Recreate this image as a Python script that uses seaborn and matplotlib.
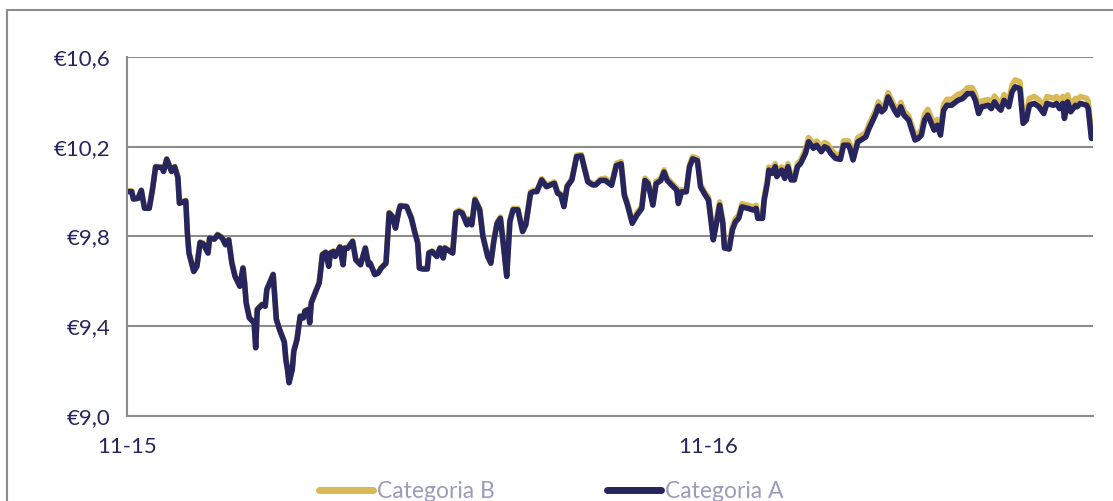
import seaborn as sns
import numpy as np
import pandas as pd
import matplotlib.pyplot as plt
from matplotlib.patches import Rectangle

# days since 2015-11-01 for each observation
days = [0, 3, 4, 7, 9, 11, 14, 16, 18, 22,
        23, 25, 28, 30, 32, 33, 37, 38, 39, 42,
        44, 46, 48, 51, 52, 55, 57, 60, 62, 64,
        66, 68, 71, 73, 74, 75, 77, 80, 81, 82,
        85, 87, 88, 92, 94, 96, 99, 100, 101, 102,
        104, 105, 107, 109, 111, 112, 114, 115, 116, 118,
        121, 123, 125, 127, 128, 130, 131, 134, 136, 137,
        139, 142, 144, 146, 147, 150, 152, 153, 156, 158,
        160, 163, 165, 167, 169, 171, 172, 176, 179, 181,
        183, 184, 186, 189, 190, 192, 195, 197, 199, 200,
        205, 207, 209, 211, 214, 215, 217, 219, 222, 224,
        227, 229, 231, 233, 235, 237, 239, 241, 243, 246,
        249, 251, 254, 256, 258, 261, 264, 269, 271, 273,
        275, 277, 280, 283, 286, 290, 293, 295, 298,
        301, 305, 308, 311, 313, 315, 318, 321, 324, 326, 328,
        331, 333, 336, 338, 340, 343, 346, 347, 349, 352,
        354, 356, 359, 361, 364,
        366, 368, 369, 371, 373, 375, 376, 379, 381, 383,
        385, 387, 391, 394, 396, 397, 400, 401, 403, 404,
        406, 408, 409, 412, 414, 416, 418, 420, 422, 424,
        427, 429, 432, 434, 437, 439, 441, 443, 446, 449,
        451, 454, 455, 457, 460, 462, 465, 467, 469, 471,
        473, 475, 477, 479, 481, 483, 485, 487, 489, 492, 494, 496, 498,
        500, 502, 504, 505, 508, 510, 512, 514, 516, 519,
        523, 526, 529, 532, 534, 536, 538, 542, 544, 546, 548, 550, 552, 555,
        557, 559, 562, 564, 566, 568, 571, 574, 577, 579,
        583, 585, 587, 589, 590, 592, 594, 597, 598, 600, 604, 605, 607]

categoria_a = [10.000, 10.000, 9.967, 9.970, 10.005, 9.926, 9.926, 10.007, 10.110, 10.107,
               10.090, 10.144, 10.090, 10.110, 10.064, 9.948, 9.958, 9.815, 9.726, 9.644,
               9.667, 9.773, 9.767, 9.726, 9.793, 9.788, 9.807, 9.793, 9.763, 9.785,
               9.681, 9.622, 9.578, 9.659, 9.593, 9.504, 9.437, 9.415, 9.304, 9.474,
               9.496, 9.489, 9.563, 9.630, 9.430, 9.385, 9.330, 9.250, 9.207, 9.148,
               9.207, 9.289, 9.341, 9.444, 9.437, 9.467, 9.474, 9.415, 9.504, 9.541,
               9.593, 9.719, 9.729, 9.667, 9.726, 9.733, 9.711, 9.753, 9.674, 9.748,
               9.748, 9.778, 9.696, 9.681, 9.674, 9.748, 9.674, 9.681, 9.630, 9.637,
               9.659, 9.681, 9.904, 9.889, 9.837, 9.911, 9.936, 9.933, 9.881, 9.822,
               9.770, 9.659, 9.655, 9.655, 9.726, 9.733, 9.711, 9.748, 9.704, 9.748,
               9.726, 9.904, 9.911, 9.904, 9.852, 9.874, 9.852, 9.963, 9.919, 9.800,
               9.711, 9.681, 9.785, 9.859, 9.881, 9.756, 9.622, 9.867, 9.919, 9.919,
               9.822, 9.852, 9.993, 10.000, 10.000, 10.052, 10.022, 10.037, 9.993, 9.985,
               9.933, 10.022, 10.052, 10.156, 10.159, 10.044, 10.030, 10.030, 10.050,
               10.050, 10.028, 10.116, 10.124, 9.984, 9.940, 9.859, 9.896, 9.925, 10.050, 10.035,
               9.940, 10.035, 10.050, 10.087, 10.050, 10.028, 10.006, 9.947, 9.999, 9.999,
               10.109, 10.146, 10.138, 10.021, 9.984,
               9.962, 9.844, 9.785, 9.859, 9.940, 9.859, 9.749, 9.744, 9.829, 9.866,
               9.881, 9.932, 9.925, 9.918, 9.925, 9.881, 9.881, 9.960, 10.037, 10.096,
               10.081, 10.111, 10.067, 10.096, 10.059, 10.111, 10.052, 10.052, 10.111, 10.126,
               10.170, 10.222, 10.193, 10.207, 10.178, 10.200, 10.193, 10.170, 10.148, 10.144,
               10.207, 10.207, 10.193, 10.141, 10.222, 10.230, 10.244, 10.281, 10.311, 10.341,
               10.381, 10.356, 10.370, 10.422, 10.393, 10.363, 10.341, 10.378, 10.341, 10.319,
               10.274, 10.230, 10.237,
               10.252, 10.319, 10.341, 10.326, 10.274, 10.296, 10.252, 10.363, 10.385, 10.385,
               10.407, 10.415, 10.437, 10.437, 10.407, 10.348, 10.378, 10.385, 10.370, 10.400,
               10.378, 10.363, 10.407, 10.378,
               10.444, 10.467, 10.459, 10.304, 10.319, 10.385, 10.393, 10.378, 10.348, 10.393,
               10.385, 10.393, 10.370, 10.393, 10.326, 10.400, 10.356, 10.385, 10.378, 10.393,
               10.385, 10.370, 10.237]

categoria_b = [10.003, 10.003, 9.970, 9.973, 10.008, 9.929, 9.929, 10.010, 10.113, 10.110,
               10.093, 10.147, 10.093, 10.113, 10.067, 9.951, 9.961, 9.818, 9.729, 9.647,
               9.670, 9.776, 9.770, 9.729, 9.796, 9.791, 9.810, 9.796, 9.766, 9.788,
               9.684, 9.625, 9.581, 9.662, 9.596, 9.507, 9.440, 9.418, 9.307, 9.477,
               9.499, 9.492, 9.566, 9.633, 9.433, 9.388, 9.333, 9.253, 9.210, 9.151,
               9.210, 9.292, 9.344, 9.447, 9.440, 9.470, 9.477, 9.418, 9.507, 9.544,
               9.596, 9.722, 9.732, 9.670, 9.729, 9.736, 9.714, 9.756, 9.677, 9.751,
               9.751, 9.781, 9.699, 9.684, 9.677, 9.751, 9.677, 9.684, 9.633, 9.640,
               9.662, 9.684, 9.907, 9.892, 9.840, 9.914, 9.939, 9.936, 9.884, 9.825,
               9.773, 9.662, 9.658, 9.658, 9.729, 9.736, 9.714, 9.751, 9.707, 9.751,
               9.732, 9.910, 9.917, 9.910, 9.858, 9.880, 9.858, 9.969, 9.925, 9.806,
               9.717, 9.687, 9.791, 9.865, 9.887, 9.762, 9.628, 9.873, 9.925, 9.925,
               9.828, 9.858, 9.999, 10.006, 10.006, 10.058, 10.028, 10.043, 9.999, 9.991,
               9.939, 10.028, 10.058, 10.162, 10.165, 10.050, 10.036, 10.036, 10.056,
               10.060, 10.038, 10.126, 10.134, 9.994, 9.950, 9.869, 9.906, 9.935, 10.060, 10.045,
               9.950, 10.045, 10.060, 10.097, 10.060, 10.038, 10.016, 9.957, 10.009, 10.009,
               10.119, 10.156, 10.148, 10.031, 9.994,
               9.976, 9.858, 9.799, 9.873, 9.954, 9.873, 9.763, 9.758, 9.843, 9.880,
               9.895, 9.946, 9.939, 9.932, 9.939, 9.895, 9.895, 9.974, 10.051, 10.110,
               10.095, 10.125, 10.081, 10.110, 10.073, 10.125, 10.066, 10.066, 10.125, 10.140,
               10.189, 10.241, 10.212, 10.226, 10.197, 10.219, 10.212, 10.189, 10.167, 10.163,
               10.226, 10.226, 10.212, 10.160, 10.241, 10.249, 10.263, 10.300, 10.330, 10.360,
               10.400, 10.375, 10.389, 10.441, 10.412, 10.382, 10.360, 10.397, 10.360, 10.338,
               10.293, 10.249, 10.256,
               10.278, 10.345, 10.367, 10.352, 10.300, 10.322, 10.278, 10.389, 10.411, 10.411,
               10.433, 10.441, 10.463, 10.463, 10.433, 10.374, 10.404, 10.411, 10.396, 10.426,
               10.404, 10.389, 10.433, 10.404,
               10.475, 10.498, 10.490, 10.335, 10.350, 10.416, 10.424, 10.409, 10.379, 10.424,
               10.416, 10.424, 10.401, 10.424, 10.357, 10.431, 10.387, 10.416, 10.409, 10.424,
               10.416, 10.401, 10.268]

y_ticks = [9.0, 9.4, 9.8, 10.2, 10.6]
y_labels = ['€9,0', '€9,4', '€9,8', '€10,2', '€10,6']
x_ticks = ['2015-11-01', '2016-11-01']
x_labels = ['11-15', '11-16']

NAVY = '#26255e'
GOLD = '#d8b955'
GREY = '#8c8c8c'

dates = pd.Timestamp('2015-11-01') + pd.to_timedelta(days, unit='D')
df = pd.concat([
    pd.DataFrame({'Data': dates, 'Valore': categoria_b, 'Serie': 'Categoria B'}),
    pd.DataFrame({'Data': dates, 'Valore': categoria_a, 'Serie': 'Categoria A'}),
])

sns.set_style('white')
plt.rcParams['font.family'] = ['Lato', 'DejaVu Sans']

fig = plt.figure(figsize=(11.13, 5.01), dpi=100)
ax = fig.add_axes([127 / 1113, 1 - 416 / 501, (1093 - 127) / 1113, (416 - 57) / 501])

sns.lineplot(data=df, x='Data', y='Valore', hue='Serie',
             hue_order=['Categoria B', 'Categoria A'],
             palette={'Categoria B': GOLD, 'Categoria A': NAVY},
             linewidth=4.0, ax=ax, legend=True)

ax.set_ylim(9.0, 10.6)
ax.set_xlim(pd.Timestamp('2015-11-01'), pd.Timestamp('2017-07-01'))
ax.set_yticks(y_ticks)
ax.set_yticklabels(y_labels)
ax.set_xticks(pd.to_datetime(x_ticks))
ax.set_xticklabels(x_labels)
ax.set_xlabel('')
ax.set_ylabel('')

ax.grid(axis='y', color=GREY, linewidth=1.5)
ax.set_axisbelow(True)
for side in ['top', 'right']:
    ax.spines[side].set_visible(False)
for side in ['left', 'bottom']:
    ax.spines[side].set_color(GREY)
    ax.spines[side].set_linewidth(1.5)
ax.tick_params(axis='both', length=6, width=1.5, color=GREY,
               labelcolor=NAVY, labelsize=16, pad=6)
ax.tick_params(axis='x', pad=9)

handles, labels = ax.get_legend_handles_labels()
ax.legend_.remove()
leg = fig.legend(handles, labels, loc='center', bbox_to_anchor=(0.495, 0.018),
                 ncol=2, frameon=False, fontsize=16.5, handlelength=2.35,
                 handletextpad=0.18, columnspacing=4.9)
for h in leg.legend_handles:
    h.set_linewidth(5)
    h.set_solid_capstyle('round')
for t in leg.get_texts():
    t.set_color('#9c9bbb')

# outer frame of the chart area
fig.patches.append(Rectangle((7 / 1113, -0.5), 2, 1.5 - 10 / 501, transform=fig.transFigure,
                             fill=False, edgecolor=GREY, linewidth=1.5))

fig.savefig('out.png', dpi=100)
